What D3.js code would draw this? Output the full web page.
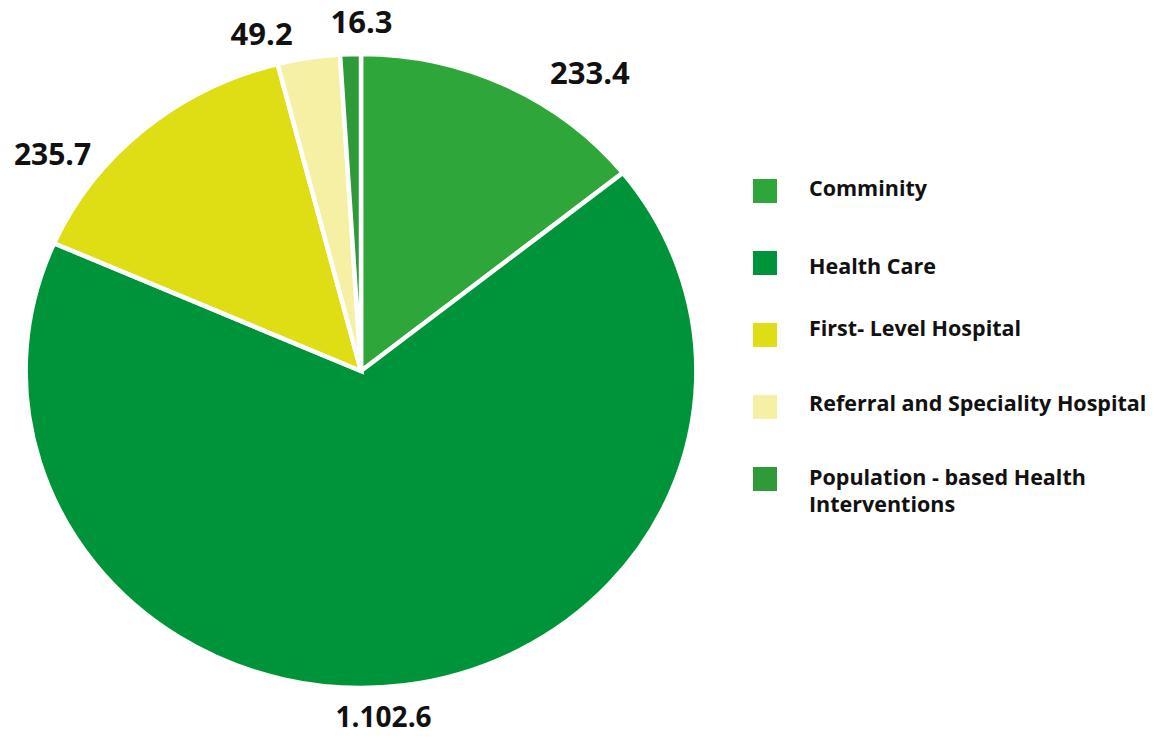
<!DOCTYPE html>
<html>
<head>
<meta charset="utf-8">
<script src="https://cdn.jsdelivr.net/npm/d3@7"></script>
<style>
  html, body { margin: 0; padding: 0; background: #ffffff; }
  svg { display: block; }
  text { font-family: "Open Sans", "Lato", sans-serif; font-weight: 700; fill: #111111; }
</style>
</head>
<body>
<svg id="chart" width="1160" height="738"></svg>
<script>
// Spending by level of care
const categories = [
  "Comminity",
  "Health Care",
  "First- Level Hospital",
  "Referral and Speciality Hospital",
  "Population - based Health Interventions"
];
const values = [233.4, 1102.6, 235.7, 49.2, 16.3];
const valueLabels = ["233.4", "1.102.6", "235.7", "49.2", "16.3"];
const colors = ["#2ea639", "#00943a", "#dfdd14", "#f6f0a4", "#2e9a38"];
// legend text is wrapped onto these lines
const legendLines = [
  ["Comminity"],
  ["Health Care"],
  ["First- Level Hospital"],
  ["Referral and Speciality Hospital"],
  ["Population - based Health", "Interventions"]
];

const svg = d3.select("#chart");

const cx = 361, cy = 371;
const ry = 317, stretch = 1.058;

const pie = d3.pie().sort(null).value(d => d)(values);
const arc = d3.arc().innerRadius(0).outerRadius(ry);

const g = svg.append("g")
  .attr("transform", `translate(${cx},${cy}) scale(${stretch},1)`);

g.selectAll("path")
  .data(pie)
  .join("path")
  .attr("d", arc)
  .attr("fill", (d, i) => colors[i])
  .attr("stroke", "#ffffff")
  .attr("stroke-width", 4.5)
  .attr("stroke-linejoin", "miter")
  .attr("vector-effect", "non-scaling-stroke");

// value labels sit outside the rim, nudged per slice to stay clear of neighbours
const labelRadius = ry + 30;
const labelNudge = [[70, 15], [-25, 2], [-71, 48], [-42, 6], [12, -2]];
const labelSize = [31, 28, 30, 31, 31];

svg.selectAll("text.value")
  .data(pie)
  .join("text")
  .attr("class", "value")
  .attr("text-anchor", "middle")
  .attr("font-size", (d, i) => labelSize[i])
  .attr("x", (d, i) => {
    const a = (d.startAngle + d.endAngle) / 2;
    return cx + Math.sin(a) * labelRadius * stretch + labelNudge[i][0];
  })
  .attr("y", (d, i) => {
    const a = (d.startAngle + d.endAngle) / 2;
    return cy - Math.cos(a) * labelRadius + labelNudge[i][1];
  })
  .attr("dy", "0.35em")
  .text((d, i) => valueLabels[i]);

// legend
const legendX = 753, legendTop = 179, legendStep = 72, sw = 24;
const textX = 809;
const textShift = [-2, 4, -6, -3, -1];

const legend = svg.append("g");
const items = legend.selectAll("g")
  .data(categories)
  .join("g")
  .attr("transform", (d, i) => `translate(0,${legendTop + i * legendStep})`);

items.append("rect")
  .attr("x", legendX)
  .attr("y", 0)
  .attr("width", sw)
  .attr("height", sw)
  .attr("fill", (d, i) => colors[i]);

items.append("text")
  .attr("x", textX)
  .attr("y", (d, i) => sw / 2 + 7 + textShift[i])
  .attr("font-size", 21.5)
  .selectAll("tspan")
  .data((d, i) => legendLines[i])
  .join("tspan")
  .attr("x", textX)
  .attr("dy", (d, j) => j === 0 ? 0 : 26.5)
  .text(d => d);
</script>
</body>
</html>
